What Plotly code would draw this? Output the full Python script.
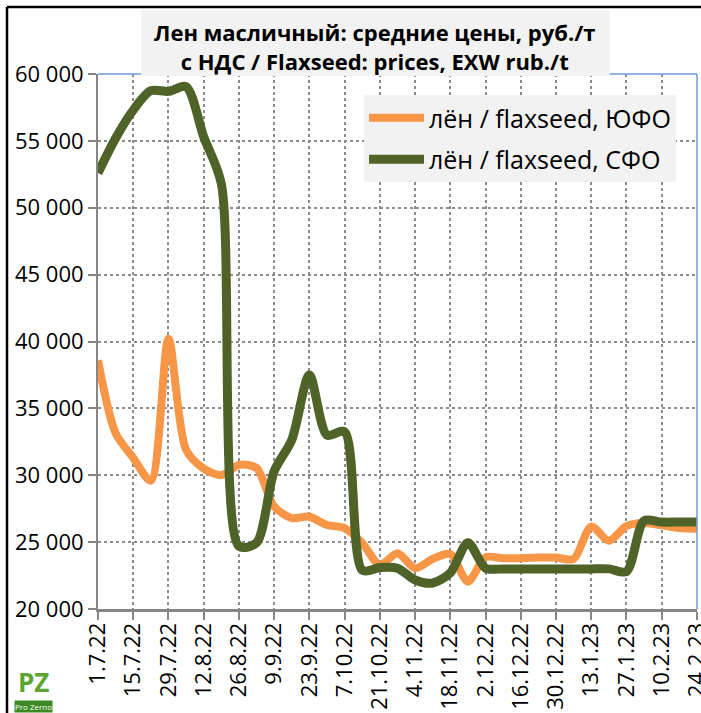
import plotly.graph_objects as go
import pandas as pd

# ---- data ----
dates = pd.date_range("2022-07-01", periods=35, freq="7D")

yufo = [38600, 33150, 31300, 29600, 40200, 31900, 30500, 30000, 30770, 30540,
        27650, 26800, 26900, 26280, 26050, 24930, 23300, 24170, 23050, 23740,
        24110, 22040, 23870, 23800, 23800, 23850, 23850, 23740, 26160, 25110,
        26200, 26430, 26250, 26050, 26000]

sfo = [52600, 55200, 57300, 58750, 58700, 59050, 55300, 51800, 24700, 24950,
       30300, 32640, 37500, 33000, 33250, 22900, 23100, 23050, 22170, 21940,
       22700, 24950, 23050, 23000, 23000, 23000, 23000, 23000, 23000, 23000,
       22800, 26600, 26500, 26500, 26500]

series_names = ["лён / flaxseed, ЮФО", "лён / flaxseed, СФО"]

x_tick_dates = pd.date_range("2022-07-01", "2023-02-24", freq="14D")
x_tick_text = ["1.7.22", "15.7.22", "29.7.22", "12.8.22", "26.8.22", "9.9.22",
               "23.9.22", "7.10.22", "21.10.22", "4.11.22", "18.11.22", "2.12.22",
               "16.12.22", "30.12.22", "13.1.23", "27.1.23", "10.2.23", "24.2.23"]

y_tick_vals = [20000, 25000, 30000, 35000, 40000, 45000, 50000, 55000, 60000]
y_tick_text = ["20 000", "25 000", "30 000", "35 000", "40 000", "45 000",
               "50 000", "55 000", "60 000"]

title_text = "<b>Лен масличный: средние цены, руб./т<br>с НДС / Flaxseed: prices, EXW rub./t</b>"

ORANGE = "#F79646"
GREEN = "#4F6228"
FONT = "Open Sans"

fig = go.Figure()
fig.add_trace(go.Scatter(x=dates, y=yufo, name=series_names[0], mode="lines",
                         line=dict(color=ORANGE, width=8, shape="spline", smoothing=0.8),
                         legendgroup="a"))
fig.add_trace(go.Scatter(x=dates, y=sfo, name=series_names[1], mode="lines",
                         line=dict(color=GREEN, width=9, shape="spline", smoothing=0.8),
                         legendgroup="b"))

W, H = 701, 713
L, R, T, B = 98, 4, 74, 104
pw, ph = W - L - R, H - T - B

def px(xp):
    return (xp - L) / pw

def py(yp):
    return (H - B - yp) / ph

x_end = dates[-1] + pd.Timedelta(hours=1)

fig.update_layout(
    width=W, height=H,
    margin=dict(l=L, r=R, t=T, b=B, autoexpand=False),
    plot_bgcolor="white", paper_bgcolor="white",
    font=dict(family=FONT, color="black", size=22),
    showlegend=True,
    legend=dict(x=px(364), y=py(95), xanchor="left", yanchor="top",
                bgcolor="#f2f2f2", font=dict(size=25, family=FONT),
                tracegroupgap=6, itemwidth=55,
                borderwidth=0),
    xaxis=dict(type="date", range=[dates[0], x_end], automargin=False,
               tickvals=list(x_tick_dates), ticktext=x_tick_text,
               tickangle=-90, tickfont=dict(size=22),
               ticklabeloverflow="allow", ticklabelstandoff=-6,
               showgrid=True, gridcolor="#8c8c8c", griddash="dot", gridwidth=2,
               showline=True, linecolor="#868686", linewidth=3,
               ticks="outside", ticklen=8, tickcolor="#868686", tickwidth=2,
               zeroline=False),
    yaxis=dict(range=[20000, 60000], tickvals=y_tick_vals, ticktext=y_tick_text,
               automargin=False, tickfont=dict(size=22),
               showgrid=True, gridcolor="#8c8c8c", griddash="dot", gridwidth=2,
               showline=True, linecolor="#868686", linewidth=2,
               ticks="outside", ticklen=8, tickcolor="#868686", tickwidth=2,
               zeroline=False),
)

# plot border (top/right) in light blue
fig.add_shape(type="line", xref="paper", yref="paper", x0=0, x1=1, y0=1, y1=1,
              line=dict(color="#6f9bd8", width=1.5), layer="above")
fig.add_shape(type="line", xref="paper", yref="paper", x0=1, x1=1, y0=0, y1=1,
              line=dict(color="#6f9bd8", width=1.5), layer="above")
# outer black border (left/top)
fig.add_shape(type="line", xref="paper", yref="paper", x0=px(7), x1=px(7), y0=py(713), y1=py(7),
              line=dict(color="black", width=2.5), layer="above")
fig.add_shape(type="line", xref="paper", yref="paper", x0=px(7), x1=px(701), y0=py(7), y1=py(7),
              line=dict(color="black", width=2.5), layer="above")
# title box
fig.add_shape(type="rect", xref="paper", yref="paper", x0=px(141), x1=px(610), y0=py(76), y1=py(10),
              fillcolor="#f2f2f2", line=dict(width=0), layer="above")
fig.add_annotation(text=title_text, xref="paper", yref="paper", x=px(374), y=py(46),
                   xanchor="center", yanchor="middle", showarrow=False,
                   font=dict(size=22, family=FONT, color="black"))
# logo
fig.add_annotation(text="<b>PZ</b>", xref="paper", yref="paper", x=px(33), y=py(682),
                   xanchor="center", yanchor="middle", showarrow=False,
                   font=dict(size=26, family=FONT, color="#5aa532"))
fig.add_annotation(text="Pro Zerno", xref="paper", yref="paper", x=px(33), y=py(706),
                   xanchor="center", yanchor="middle", showarrow=False,
                   bgcolor="#3d8a22", borderpad=0,
                   font=dict(size=8, family=FONT, color="white"))

fig.write_html("out.html", config={"displayModeBar": False},
               post_script="document.body.style.margin='0px';document.body.style.overflow='hidden';")
